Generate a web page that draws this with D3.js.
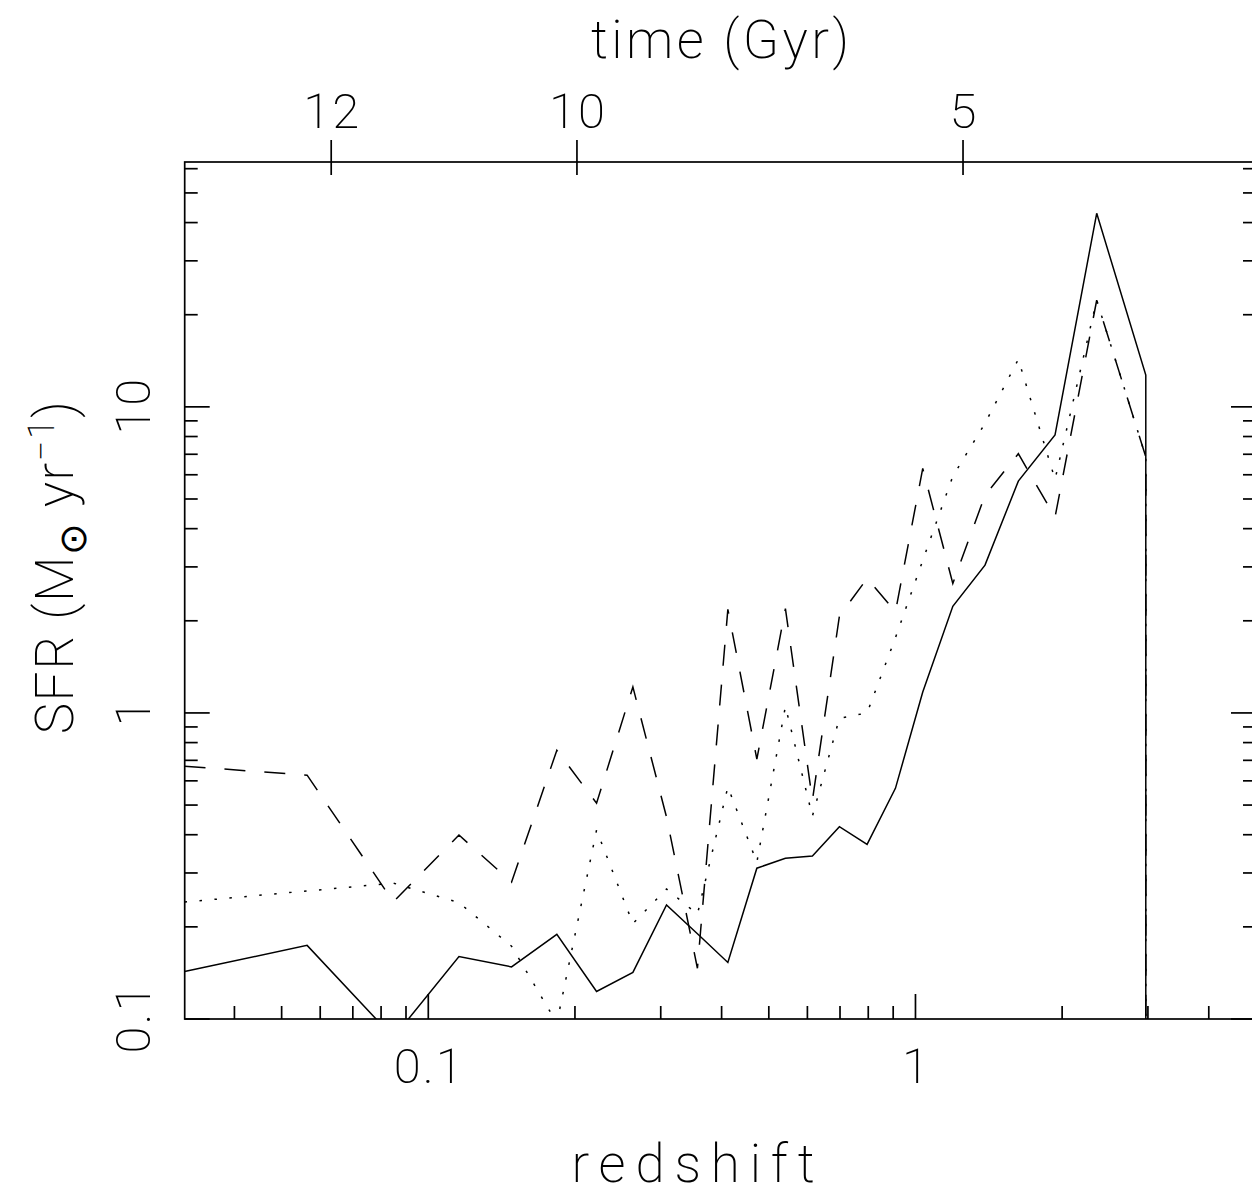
<!DOCTYPE html>
<html>
<head>
<meta charset="utf-8">
<script src="https://cdn.jsdelivr.net/npm/d3@7"></script>
<style>
  html, body { margin: 0; padding: 0; background: #fff; }
  svg { display: block; }
  text { font-family: Roboto, "Noto Sans", "DejaVu Sans", sans-serif; font-weight: 200; fill: #000; }
</style>
</head>
<body>
<svg id="chart" width="1252" height="1197"></svg>
<script>
// Star formation history: redshift samples shared by the three runs
const redshift = [0.0316, 0.0564, 0.0848, 0.1156, 0.1482, 0.1836, 0.2215, 0.2630,
  0.3083, 0.3568, 0.4120, 0.4725, 0.5408, 0.6144, 0.6980, 0.7956, 0.9096,
  1.035, 1.193, 1.389, 1.626, 1.934, 2.355, 2.97, 2.97];

// SFR in Msun/yr (0 = no star formation)
const sfrSolid = [0.143, 0.174, 0.087, 0.160, 0.148, 0.189, 0.123, 0.142,
  0.236, 0.190, 0.153, 0.311, 0.335, 0.341, 0.425, 0.372, 0.567,
  1.17, 2.23, 3.04, 5.72, 8.10, 42.9, 12.7, 0];
const sfrDotted = [0.241, 0.262, 0.278, 0.240, 0.173, 0.097, 0.414, 0.205,
  0.266, 0.220, 0.573, 0.325, 1.05, 0.460, 0.961, 1.00, 1.76,
  3.15, 5.93, 8.83, 14.3, 5.80, 22.3, 6.87, 0];
const sfrDashed = [0.67, 0.626, 0.2415, 0.399, 0.280, 0.755, 0.507, 1.216,
  0.457, 0.1465, 2.18, 0.706, 2.19, 0.519, 2.07, 2.75, 2.14,
  6.29, 2.65, 5.14, 7.03, 4.36, 22.3, 6.87, 0];

// Axis ticks
const xMajorTicks = [0.1, 1];
const xMinorTicks = [0.04, 0.05, 0.06, 0.07, 0.08, 0.09, 0.2, 0.3, 0.4, 0.5, 0.6, 0.7, 0.8, 0.9, 2, 3, 4];
const xTickLabels = ["0.1", "1"];
const yMajorTicks = [0.1, 1, 10];
const yMinorTicks = [0.2, 0.3, 0.4, 0.5, 0.6, 0.7, 0.8, 0.9, 2, 3, 4, 5, 6, 7, 8, 9, 20, 30, 40, 50, 60];
const yTickLabels = ["0.1", "1", "10"];
// Cosmic time (Gyr) along the top, placed at the matching redshift
const timeTickLabels = ["12", "10", "5"];
const timeTickRedshift = [0.0632, 0.2019, 1.252];

const svg = d3.select("#chart");
const pLeft = 184.7, pRight = 1256, pTop = 162, pBottom = 1019;

const x = d3.scaleLog().domain([Math.pow(10, -1.5), 5]).range([pLeft, pRight]);
const y = d3.scaleLog().domain([0.1, Math.pow(10, 1.8)]).range([pBottom, pTop]);

svg.append("defs").append("clipPath").attr("id", "plotClip")
  .append("rect").attr("x", pLeft).attr("y", pTop)
  .attr("width", pRight - pLeft).attr("height", pBottom - pTop);

const series = [
  { values: sfrSolid, dash: null },
  { values: sfrDotted, dash: "2.5,12.5" },
  { values: sfrDashed, dash: "21,19" }
];

const line = d3.line()
  .x(d => x(d.z))
  .y(d => d.v > 0 ? y(d.v) : pBottom + 20);

const plot = svg.append("g").attr("clip-path", "url(#plotClip)");
series.forEach(s => {
  const pts = redshift.map((z, i) => ({ z, v: s.values[i] }));
  plot.append("path")
    .attr("d", line(pts))
    .attr("fill", "none")
    .attr("stroke", "#000")
    .attr("stroke-width", 1.5)
    .attr("stroke-linejoin", "miter")
    .attr("stroke-dasharray", s.dash);
});

// Frame
const axisStroke = 1.7;
svg.append("rect").attr("x", pLeft).attr("y", pTop)
  .attr("width", pRight - pLeft).attr("height", pBottom - pTop)
  .attr("fill", "none").attr("stroke", "#000").attr("stroke-width", axisStroke);

const ticks = svg.append("g").attr("stroke", "#000").attr("stroke-width", axisStroke);
const majorLen = 25, minorLen = 13;

// bottom axis ticks
xMajorTicks.forEach(t => ticks.append("line")
  .attr("x1", x(t)).attr("x2", x(t)).attr("y1", pBottom).attr("y2", pBottom - majorLen));
xMinorTicks.forEach(t => ticks.append("line")
  .attr("x1", x(t)).attr("x2", x(t)).attr("y1", pBottom).attr("y2", pBottom - minorLen));

// left and right axis ticks
yMajorTicks.forEach(t => {
  ticks.append("line").attr("x1", pLeft).attr("x2", pLeft + majorLen).attr("y1", y(t)).attr("y2", y(t));
  ticks.append("line").attr("x1", pRight).attr("x2", pRight - majorLen).attr("y1", y(t)).attr("y2", y(t));
});
yMinorTicks.forEach(t => {
  ticks.append("line").attr("x1", pLeft).attr("x2", pLeft + minorLen).attr("y1", y(t)).attr("y2", y(t));
  ticks.append("line").attr("x1", pRight).attr("x2", pRight - minorLen).attr("y1", y(t)).attr("y2", y(t));
});

// top time-axis ticks
timeTickRedshift.forEach(z => ticks.append("line")
  .attr("x1", x(z)).attr("x2", x(z)).attr("y1", pTop - 22).attr("y2", pTop + 13));

const fs = 49, titleFs = 53;
// widths used for the wide-set label lettering
const labelWidth = s => s.length === 1 ? null : (s.length === 2 ? 56 : 69);

// bottom tick labels
xMajorTicks.forEach((t, i) => svg.append("text")
  .attr("x", x(t)).attr("y", 1083)
  .attr("text-anchor", "middle").attr("font-size", fs)
  .attr("textLength", labelWidth(xTickLabels[i]))
  .attr("lengthAdjust", "spacing")
  .text(xTickLabels[i]));

// left tick labels (rotated)
yMajorTicks.forEach((t, i) => svg.append("text")
  .attr("transform", `translate(150,${y(t)}) rotate(-90)`)
  .attr("text-anchor", "middle").attr("font-size", fs)
  .attr("textLength", labelWidth(yTickLabels[i]))
  .attr("lengthAdjust", "spacing")
  .text(yTickLabels[i]));

// top tick labels
timeTickRedshift.forEach((z, i) => svg.append("text")
  .attr("x", x(z)).attr("y", 128)
  .attr("text-anchor", "middle").attr("font-size", fs)
  .attr("textLength", labelWidth(timeTickLabels[i]))
  .attr("lengthAdjust", "spacing")
  .text(timeTickLabels[i]));

// axis titles
svg.append("text").attr("x", 720).attr("y", 58)
  .attr("text-anchor", "middle").attr("font-size", titleFs)
  .attr("textLength", 258).attr("lengthAdjust", "spacing")
  .text("time (Gyr)");

svg.append("text").attr("x", 693).attr("y", 1182)
  .attr("text-anchor", "middle").attr("font-size", titleFs)
  .attr("textLength", 243).attr("lengthAdjust", "spacing")
  .text("redshift");

const yTitle = svg.append("text")
  .attr("transform", "translate(73,567) rotate(-90)")
  .attr("text-anchor", "middle").attr("font-size", titleFs)
  .attr("letter-spacing", 1.5);
yTitle.append("tspan").text("SFR (M");
yTitle.append("tspan").attr("dy", 13).attr("font-size", 38).text("\u2299");
yTitle.append("tspan").attr("dy", -13).text(" yr");
yTitle.append("tspan").attr("dy", -19).attr("font-size", 36).text("\u22121");
yTitle.append("tspan").attr("dy", 19).text(")");
</script>
</body>
</html>
